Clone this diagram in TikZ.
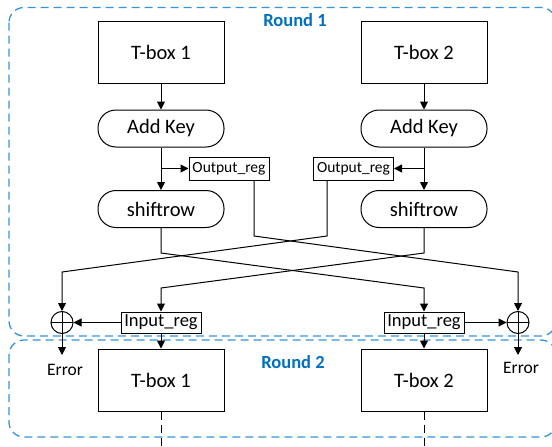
\documentclass[tikz,border=0pt]{standalone}
\usepackage{fontspec}
\setmainfont{Carlito}
\usepackage{xcolor}
\usetikzlibrary{arrows.meta,positioning}
\definecolor{roundblue}{RGB}{0,112,192}
\definecolor{frameblue}{RGB}{55,148,220}

\begin{document}
\begin{tikzpicture}[
    x=1pt, y=-1pt, line width=1pt,
    tbox/.style={draw, minimum width=126pt, minimum height=62pt,
      font=\fontsize{20.5}{24}\selectfont},
    pill/.style={draw, rounded corners=18pt, minimum width=126pt,
      minimum height=37pt, font=\fontsize{20.5}{24}\selectfont},
    oreg/.style={draw, minimum width=80pt, minimum height=23pt, inner sep=1pt,
      font=\fontsize{15.5}{18}\selectfont},
    ireg/.style={draw, minimum width=80pt, minimum height=21pt, inner sep=1pt,
      font=\fontsize{18.5}{21}\selectfont},
    xor/.style={draw, circle, minimum size=22pt, inner sep=0pt,
      path picture={\draw (path picture bounding box.north) -- (path picture bounding box.south)
        (path picture bounding box.west) -- (path picture bounding box.east);}},
    err/.style={anchor=north, inner sep=1pt, font=\fontsize{17.5}{20}\selectfont},
    rlabel/.style={text=roundblue, font=\bfseries\fontsize{18.5}{21}\selectfont},
    frame/.style={draw=frameblue, line width=1.3pt, dash pattern=on 8pt off 5pt,
      rounded corners=15pt},
    tail/.style={dash pattern=on 8pt off 5pt},
    arrow/.style={-{Triangle[length=8pt,width=8pt]}}
  ]
    \useasboundingbox (0,0) rectangle (552,447);
    \clip (0,0) rectangle (552,447);

    \draw[frame] (9,7.5) rectangle (556,336);
    \draw[frame] (9,340) rectangle (556,437);
    \node[rlabel] (r1lbl) at (295,20) {Round 1};
    \node[rlabel] (r2lbl) at (293,362) {Round 2};

    \node[tbox] (tb1) at (161,52.5) {T-box 1};
    \node[tbox] (tb2) at (424,52.5) {T-box 2};
    \node[pill] (ak1) at (161,128.5) {Add Key};
    \node[pill] (ak2) at (424,128.5) {Add Key};
    \node[oreg] (or1) at (229,168.5) {Output\_reg};
    \node[oreg] (or2) at (353.5,168.5) {Output\_reg};
    \node[pill] (sr1) at (161,209) {shiftrow};
    \node[pill] (sr2) at (424,209) {shiftrow};
    \node[ireg] (ir1) at (161,322.5) {Input\_reg};
    \node[ireg] (ir2) at (424,322.5) {Input\_reg};
    \node[xor] (xor1) at (62,322.5) {};
    \node[xor] (xor2) at (518,322.5) {};
    \node[err] (err1) at (65,363) {Error};
    \node[err] (err2) at (521,361) {Error};
    \node[tbox] (tb3) at (161,380) {T-box 1};
    \node[tbox] (tb4) at (424,380) {T-box 2};

    \coordinate (o1bend) at (254,236);
    \coordinate (o1end) at (518,272);
    \coordinate (o2bend) at (327,236);
    \coordinate (o2end) at (62,272);
    \coordinate (s1bend) at (161,253);
    \coordinate (s1end) at (424,288);
    \coordinate (s2bend) at (424,253);
    \coordinate (s2end) at (161,288);
    \coordinate (e1tip) at (62,355);
    \coordinate (e2tip) at (518,355);
    \coordinate (t3end) at (161,450);
    \coordinate (t4end) at (424,450);

    \draw[arrow] (tb1) -- (ak1);
    \draw[arrow] (tb2) -- (ak2);
    \draw[arrow] (ak1) -- (sr1);
    \draw[arrow] (ak2) -- (sr2);
    \draw[arrow] (ak1 |- or1) -- (or1);
    \draw[arrow] (ak2 |- or2) -- (or2);

    \draw[arrow] (or1.south -| o1bend) -- (o1bend) -- (o1end) -- (xor2);
    \draw[arrow] (or2.south -| o2bend) -- (o2bend) -- (o2end) -- (xor1);
    \draw[arrow] (sr1) -- (s1bend) -- (s1end) -- (ir2);
    \draw[arrow] (sr2) -- (s2bend) -- (s2end) -- (ir1);

    \draw[arrow] (ir1) -- (xor1);
    \draw[arrow] (ir2) -- (xor2);
    \draw[arrow] (xor1) -- (e1tip);
    \draw[arrow] (xor2) -- (e2tip);
    \draw[arrow] (ir1) -- (tb3);
    \draw[arrow] (ir2) -- (tb4);
    \draw[tail] (tb3) -- (t3end);
    \draw[tail] (tb4) -- (t4end);
  \end{tikzpicture}
\end{document}
